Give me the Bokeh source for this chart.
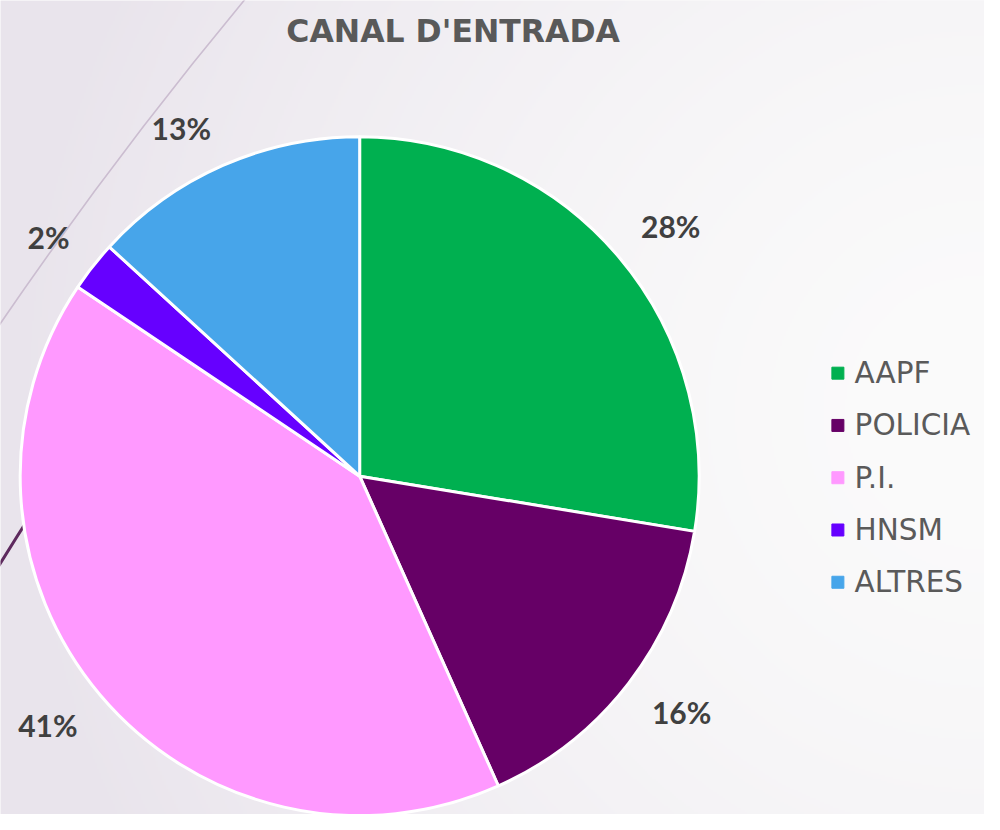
import numpy as np
from bokeh.plotting import figure
from bokeh.models import Range1d, ColumnDataSource
from bokeh.core.properties import value
from bokeh.embed import file_html
from bokeh.resources import INLINE

# ---- data ----
categories = ["AAPF", "POLICIA", "P.I.", "HNSM", "ALTRES"]
shares = [27.6, 15.7, 41.1, 2.4, 13.2]
colors = ["#00B050", "#660066", "#FF99FF", "#6600FF", "#47A5EA"]
title_text = "CANAL D'ENTRADA"

W, H = 984, 814
# data space = reference pixel grid (x right, y up, 1000 x 830)
p = figure(width=W, height=H, x_range=Range1d(0, 1000), y_range=Range1d(0, 830),
           output_backend="svg", toolbar_location=None, min_border=0)
p.axis.visible = False
p.grid.visible = False
p.outline_line_color = None
p.background_fill_color = "#F5F4F6"
p.border_fill_color = "white"

# ---- background gradient (decoration) ----
nx, ny = 500, 415
gx = np.linspace(0, 1000, nx)
gy = np.linspace(0, 830, ny)
X, Y = np.meshgrid(gx, gy)
SY = 830 - Y
d = np.sqrt((X - 1000) ** 2 + (SY - 420) ** 2) / 1000.0
t = np.clip(d, 0, 1) ** 1.6
c0 = np.array([251, 251, 251])
c1 = np.array([233, 228, 236])
r = (c0[0] + (c1[0] - c0[0]) * t).astype(np.uint32)
g = (c0[1] + (c1[1] - c0[1]) * t).astype(np.uint32)
b = (c0[2] + (c1[2] - c0[2]) * t).astype(np.uint32)
img = (255 << 24) | (b << 16) | (g << 8) | r
p.image_rgba(image=[img.astype(np.uint32)], x=0, y=0, dw=1000, dh=830)

# ---- decorative arcs ----
acx, acy = 3721, 830 - 2888
p.arc(x=acx, y=acy, radius=4511, start_angle=np.deg2rad(135), end_angle=np.deg2rad(150),
      line_color="#CBBDD0", line_width=1.6)
p.arc(x=acx, y=acy, radius=4378, start_angle=np.deg2rad(146.5), end_angle=np.deg2rad(150),
      line_color="#5E2A5E", line_width=3)

# ---- pie ----
cx, cy, R = 365, 345, 345
fr = np.array(shares) / sum(shares)
cum = np.concatenate([[0], np.cumsum(fr)])
start = np.pi / 2 - cum[:-1] * 2 * np.pi
end = np.pi / 2 - cum[1:] * 2 * np.pi
src = ColumnDataSource(dict(cat=categories, start=start, end=end, color=colors))
p.wedge(x=cx, y=cy, radius=R, start_angle="start", end_angle="end", direction="clock",
        fill_color="color", line_color="white", line_width=3, source=src)

# ---- data labels (outside end) ----
mid = (start + end) / 2
dx, dy = np.cos(mid), np.sin(mid)
gap = 30
ax = cx + (R + gap) * dx
ay = cy + (R + gap) * dy + np.sign(dy) * 12
aligns = ["left" if v > 0 else "right" for v in dx]
lab = ColumnDataSource(dict(x=ax, y=ay, a=aligns, t=[f"{round(s)}%" for s in shares]))
p.text(x="x", y="y", text="t", source=lab, text_align="a", text_baseline="middle",
       text_font=value("Lato"), text_font_style="bold", text_font_size="30px",
       text_color="#404040")

# ---- title ----
p.text(x=[460], y=[830 - 31], text=[title_text], text_align="center", text_baseline="middle",
       text_font=value("DejaVu Sans"), text_font_style="bold", text_font_size="31.5px",
       text_color="#595959")

# ---- legend ----
ly = [830 - (380 + 53.3 * i) for i in range(len(categories))]
p.scatter(x=[851] * len(categories), y=ly, marker="square", size=12,
          fill_color=colors, line_color=colors)
p.text(x=[868] * len(categories), y=ly, text=categories, text_align="left",
       text_baseline="middle", text_font=value("DejaVu Sans"), text_font_size="29.5px",
       text_color="#5A5A5A")

open("out.html", "w").write(file_html(p, INLINE))
